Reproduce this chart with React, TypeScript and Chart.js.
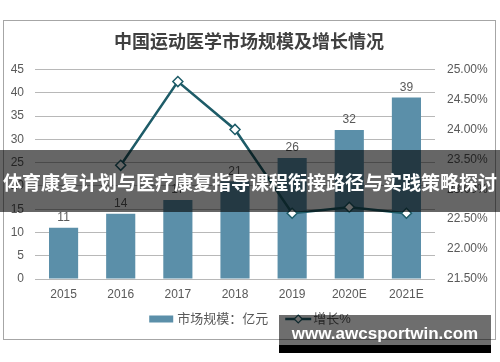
import React, { useEffect, useRef } from 'react';
import { Chart, registerables } from 'chart.js';

Chart.register(...registerables);

// ---- data ----
const categories = ['2015', '2016', '2017', '2018', '2019', '2020E', '2021E'];
const marketSize = [11, 14, 17, 21, 26, 32, 39];
const growthPct: (number | null)[] = [null, 23.4, 24.8, 24.0, 22.6, 22.7, 22.6];
const leftAxis = { min: 0, max: 45, step: 5 };
const rightAxis = { min: 21.5, max: 25, step: 0.5 };
const titleText = '中国运动医学市场规模及增长情况';
const barLabel = '市场规模：亿元';
const lineLabel = '增长%';
const bannerText = '体育康复计划与医疗康复指导课程衔接路径与实践策略探讨';
const watermarkText = 'www.awcsportwin.com';

// ---- styles ----
const FAMILY = "'Liberation Sans', 'Noto Sans CJK SC', Arial, sans-serif";
const BAR_COLOR = '#5b8fa9';
const LINE_COLOR = '#1e5c68';
const TEXT_COLOR = '#595959';

const frameAndLabels = {
  id: 'frameAndLabels',
  beforeDraw(chart: any) {
    const ctx = chart.ctx;
    ctx.save();
    ctx.fillStyle = '#ffffff';
    ctx.fillRect(0, 0, chart.width, chart.height);
    ctx.strokeStyle = '#a6a6a6';
    ctx.lineWidth = 1;
    ctx.strokeRect(3.5, 20.5, 492, 319);
    ctx.restore();
  },
  afterDatasetsDraw(chart: any) {
    const ctx = chart.ctx;
    const meta = chart.getDatasetMeta(0);
    const ds = chart.data.datasets[0];
    ctx.save();
    ctx.font = `12px ${FAMILY}`;
    ctx.fillStyle = TEXT_COLOR;
    ctx.textAlign = 'center';
    ctx.textBaseline = 'bottom';
    meta.data.forEach((el: any, i: number) => {
      ctx.fillText(String(ds.data[i]), el.x, el.y - 4);
    });
    ctx.restore();
  },
  afterDraw(chart: any) {
    const ctx = chart.ctx;
    const d0 = chart.data.datasets[0];
    const d1 = chart.data.datasets[1];
    ctx.save();
    ctx.font = `13px ${FAMILY}`;
    const cy = 319;
    const w1 = ctx.measureText(d0.label).width;
    const w2 = ctx.measureText(d1.label).width;
    const total = 24 + 4 + w1 + 17 + 26 + 2 + w2;
    let x = 250 - total / 2;
    ctx.fillStyle = d0.backgroundColor;
    ctx.fillRect(x, cy - 3.5, 24, 7);
    x += 28;
    ctx.fillStyle = TEXT_COLOR;
    ctx.textAlign = 'left';
    ctx.textBaseline = 'middle';
    ctx.fillText(d0.label, x, cy);
    x += w1 + 17;
    ctx.strokeStyle = d1.borderColor;
    ctx.lineWidth = 2.5;
    ctx.beginPath();
    ctx.moveTo(x, cy);
    ctx.lineTo(x + 26, cy);
    ctx.stroke();
    const mx = x + 13;
    ctx.beginPath();
    ctx.moveTo(mx, cy - 4);
    ctx.lineTo(mx + 4, cy);
    ctx.lineTo(mx, cy + 4);
    ctx.lineTo(mx - 4, cy);
    ctx.closePath();
    ctx.fillStyle = '#ffffff';
    ctx.fill();
    ctx.lineWidth = 1.2;
    ctx.stroke();
    x += 28;
    ctx.fillStyle = TEXT_COLOR;
    ctx.fillText(d1.label, x, cy);
    ctx.restore();
  },
};

export default function App() {
  const ref = useRef<HTMLCanvasElement | null>(null);

  useEffect(() => {
    document.body.style.margin = '0';
    if (!ref.current) return;
    Chart.defaults.font.family = FAMILY;
    const chart = new Chart(ref.current, {
      type: 'bar',
      data: {
        labels: categories,
        datasets: [
          {
            type: 'bar',
            label: barLabel,
            data: marketSize,
            backgroundColor: BAR_COLOR,
            barPercentage: 0.51,
            categoryPercentage: 1,
            yAxisID: 'y',
            order: 2,
          } as any,
          {
            type: 'line',
            label: lineLabel,
            data: growthPct,
            borderColor: LINE_COLOR,
            borderWidth: 2.5,
            pointStyle: 'rectRot',
            pointRadius: 5,
            pointBackgroundColor: '#ffffff',
            pointBorderColor: LINE_COLOR,
            pointBorderWidth: 1.5,
            tension: 0,
            yAxisID: 'y1',
            order: 1,
          } as any,
        ],
      },
      options: {
        responsive: false,
        animation: false,
        layout: { padding: { left: 3, right: 5, top: 0, bottom: 58 } },
        plugins: {
          legend: { display: false },
          tooltip: { enabled: false },
          title: {
            display: true,
            text: titleText,
            color: '#404040',
            font: { size: 18, weight: 'bold', family: FAMILY },
            padding: { top: 32, bottom: 16 },
          },
        },
        scales: {
          x: {
            grid: { display: false, drawTicks: false },
            border: { display: false },
            ticks: { color: TEXT_COLOR, font: { size: 12 }, padding: 8 },
            afterFit: (s: any) => { s.height = 25; },
          },
          y: {
            position: 'left',
            min: leftAxis.min,
            max: leftAxis.max,
            ticks: { stepSize: leftAxis.step, color: TEXT_COLOR, font: { size: 12 }, padding: 11 },
            grid: { color: '#b8b8b8', drawTicks: false },
            border: { display: false },
            afterFit: (s: any) => { s.width = 32; },
          },
          y1: {
            position: 'right',
            min: rightAxis.min,
            max: rightAxis.max,
            ticks: {
              stepSize: rightAxis.step,
              color: TEXT_COLOR,
              font: { size: 12 },
              padding: 12,
              callback: (v: any) => Number(v).toFixed(2) + '%',
            },
            grid: { display: false, drawTicks: false },
            border: { display: false },
            afterFit: (s: any) => { s.width = 60; },
          },
        },
      } as any,
      plugins: [frameAndLabels],
    });
    return () => chart.destroy();
  }, []);

  return (
    <div style={{ position: 'relative', width: 500, height: 362, overflow: 'hidden', background: '#fff' }}>
      <canvas ref={ref} width={500} height={362} style={{ position: 'absolute', left: 0, top: 0, width: 500, height: 362 }} />
      <div
        style={{
          position: 'absolute', left: 0, top: 150, width: 500, height: 62,
          background: 'rgba(0,0,0,0.6)', display: 'flex', alignItems: 'center', justifyContent: 'center',
          color: '#fff', fontFamily: "'Noto Sans CJK SC', sans-serif", fontWeight: 700, fontSize: 19,
          whiteSpace: 'nowrap', lineHeight: 1,
        }}
      >
        {bannerText}
      </div>
      <div
        style={{
          position: 'absolute', left: 279, top: 315, width: 212, height: 30,
          background: 'rgba(0,0,0,0.57)', display: 'flex', alignItems: 'center', justifyContent: 'center',
          color: '#fff', fontFamily: "'Liberation Sans', Arial, sans-serif", fontWeight: 700, fontSize: 17,
          whiteSpace: 'nowrap', lineHeight: 1, paddingTop: 6, boxSizing: 'border-box',
        }}
      >
        {watermarkText}
      </div>
      <div style={{ position: 'absolute', left: 279, top: 345, width: 212, height: 8, background: '#000' }} />
    </div>
  );
}
